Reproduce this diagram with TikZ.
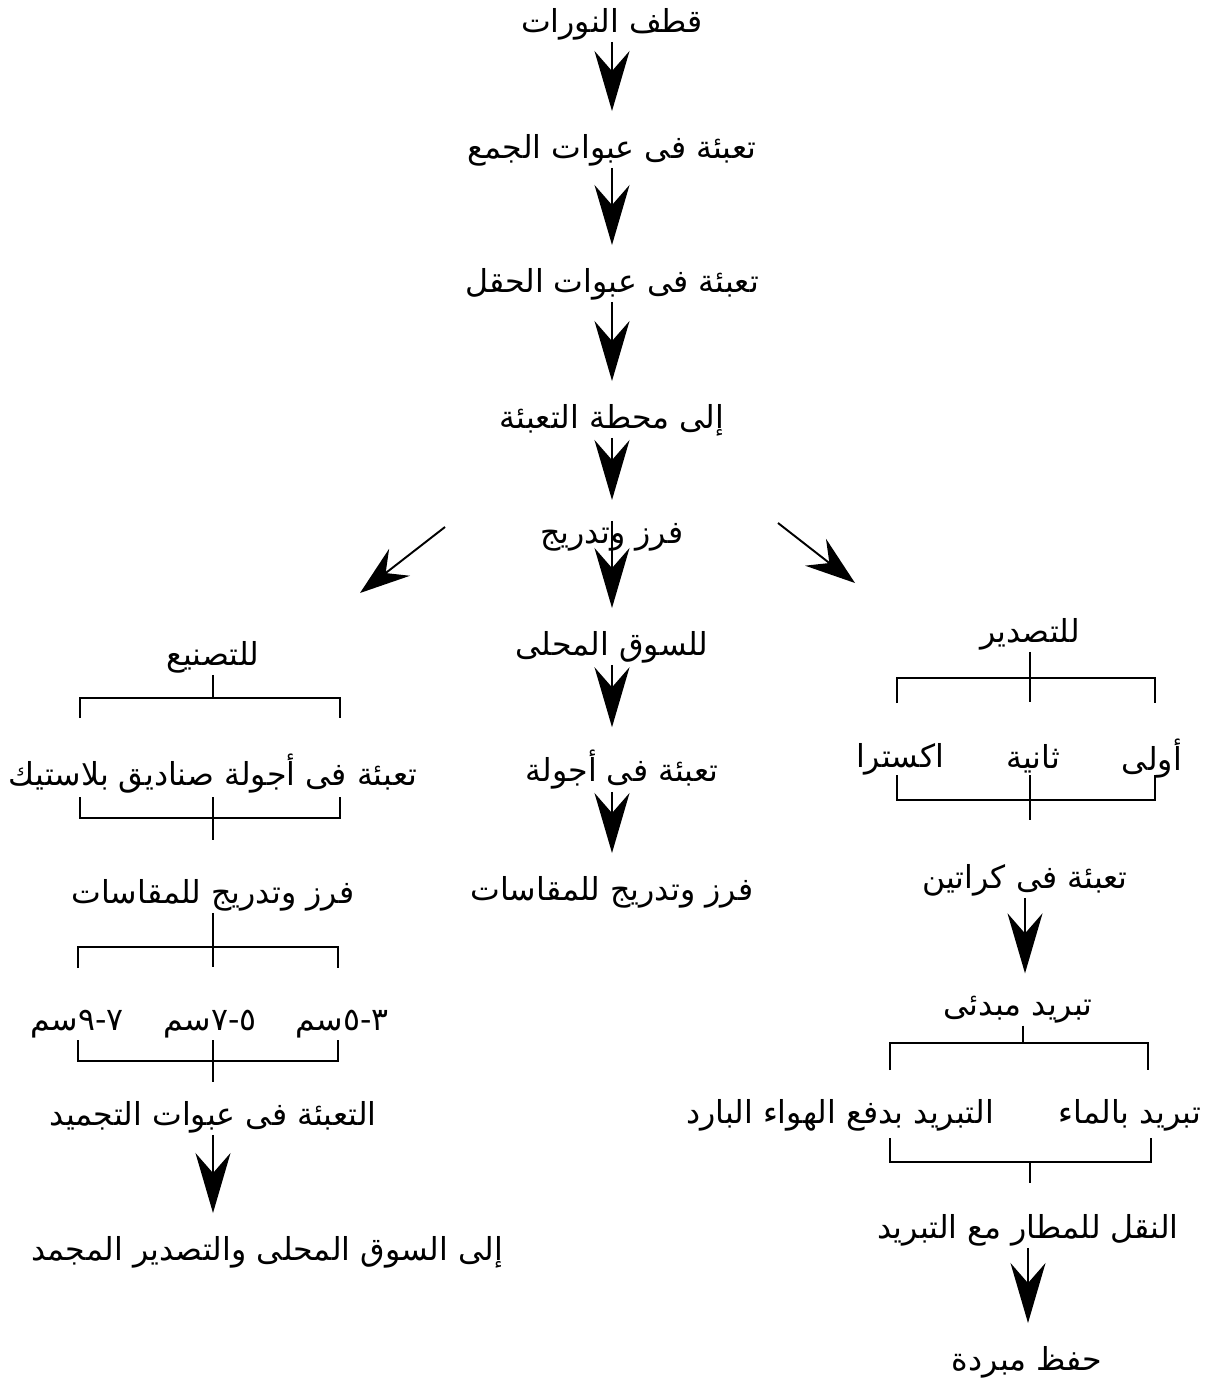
\documentclass[tikz,border=0pt]{standalone}
\usepackage{fontspec}
\newfontfamily\arabicfont[Script=Arabic]{DejaVu Sans}
\TeXXeTstate=1
\usetikzlibrary{arrows.meta,positioning}

\begin{document}
\begin{tikzpicture}[x=0.02cm,y=-0.02cm,
      font=\arabicfont\fontsize{18}{21}\selectfont,
      stage/.style={inner sep=1pt},
      flow/.style={-{Stealth[length=1.2cm,width=0.7cm,inset=0.4cm]},
                   line width=1.1pt,shorten >=0.42cm},
      slant/.style={-{Stealth[length=1.0cm,width=0.68cm,inset=0.35cm]},
                   line width=1.1pt},
      brace/.style={line width=1.2pt}]

    \useasboundingbox (0,0) rectangle (1204,1378);

    % main line
    \node[stage] (cut)     at (612,24)  {\beginR قطف النورات\endR};
    \node[stage] (gather)  at (612,150) {\beginR تعبئة فى عبوات الجمع\endR};
    \node[stage] (field)   at (612,284) {\beginR تعبئة فى عبوات الحقل\endR};
    \node[stage] (station) at (612,420) {\beginR إلى محطة التعبئة\endR};
    \node[stage] (sort)    at (612,537) {\beginR فرز وتدريج\endR};
    \node[stage] (local)   at (612,647) {\beginR للسوق المحلى\endR};
    \node[stage] (bags)    at (622,770) {\beginR تعبئة فى أجولة\endR};
    \node[stage] (grade)   at (612,892) {\beginR فرز وتدريج للمقاسات\endR};

    \draw[flow] (cut.south) -- (gather.north);
    \draw[flow] (gather.south) -- (field.north);
    \draw[flow] (field.south) -- (station.north);
    \draw[flow] (station.south) -- (sort.north);
    \draw[flow] (sort.north) -- (local.north);
    \draw[flow] (local.south) -- (local.south |- bags.north);
    \draw[flow] (bags.south -| local.south) -- (grade.north);

    \coordinate (mfgA) at (445,527);
    \coordinate (mfgB) at (360,593);
    \coordinate (expA) at (778,523);
    \coordinate (expB) at (855,583);
    \draw[slant] (mfgA) -- (mfgB);
    \draw[slant] (expA) -- (expB);

    % manufacture branch
    \node[stage] (mfg)    at (213,657)  {\beginR للتصنيع\endR};
    \node[stage] (pack)   at (213,774)  {\beginR تعبئة فى أجولة صناديق بلاستيك\endR};
    \node[stage] (sizes)  at (213,895)  {\beginR فرز وتدريج للمقاسات\endR};
    \node[stage] (sizeA)  at (342,1024) {\beginR ٣-٥سم\endR};
    \node[stage] (sizeB)  at (210,1024) {\beginR ٥-٧سم\endR};
    \node[stage] (sizeC)  at (77,1024)  {\beginR ٧-٩سم\endR};
    \node[stage] (freeze) at (213,1117) {\beginR التعبئة فى عبوات التجميد\endR};
    \node[stage] (frozen) at (267,1252) {\beginR إلى السوق المحلى والتصدير المجمد\endR};

    \draw[brace] (mfg.south) -- (213,698);
    \draw[brace] (80,718) -- (80,698) -- (340,698) -- (340,718);
    \draw[brace] (80,797) -- (80,818) -- (340,818) -- (340,797);
    \draw[brace] (213,797) -- (213,840);

    \draw[brace] (sizes.south) -- (213,967);
    \draw[brace] (78,968) -- (78,947) -- (338,947) -- (338,968);
    \draw[brace] (78,1040) -- (78,1061) -- (338,1061) -- (338,1040);
    \draw[brace] (213,1040) -- (213,1082);

    \draw[flow] (freeze.south) -- (freeze.south |- frozen.north);

    % export branch
    \node[stage] (export)  at (1030,634)  {\beginR للتصدير\endR};
    \node[stage] (gradeA)  at (1152,759)  {\beginR أولى\endR};
    \node[stage] (gradeB)  at (1033,759)  {\beginR ثانية\endR};
    \node[stage] (gradeC)  at (900,759)   {\beginR اكسترا\endR};
    \node[stage] (cartons) at (1025,880)  {\beginR تعبئة فى كراتين\endR};
    \node[stage] (precool) at (1018,1010) {\beginR تبريد مبدئى\endR};
    \node[stage,anchor=east] (water) at (1203,1115) {\beginR تبريد بالماء\endR};
    \node[stage] (air)     at (840,1115)  {\beginR التبريد بدفع الهواء البارد\endR};
    \node[stage] (airport) at (1028,1230) {\beginR النقل للمطار مع التبريد\endR};
    \node[stage] (keep)    at (1027,1362) {\beginR حفظ مبردة\endR};

    \draw[brace] (export.south) -- (1030,702);
    \draw[brace] (897,703) -- (897,678) -- (1155,678) -- (1155,703);
    \draw[brace] (897,775) -- (897,800) -- (1155,800) -- (1155,775);
    \draw[brace] (1030,775) -- (1030,820);

    \draw[flow] (cartons.south) -- (cartons.south |- precool.north);

    \draw[brace] (precool.south -| 1023,0) -- (1023,1043);
    \draw[brace] (890,1070) -- (890,1043) -- (1148,1043) -- (1148,1070);
    \draw[brace] (890,1138) -- (890,1162) -- (1151,1162) -- (1151,1138);
    \draw[brace] (1030,1162) -- (1030,1183);

    \draw[flow] (airport.south) -- (airport.south |- keep.north);
  \end{tikzpicture}
\end{document}
